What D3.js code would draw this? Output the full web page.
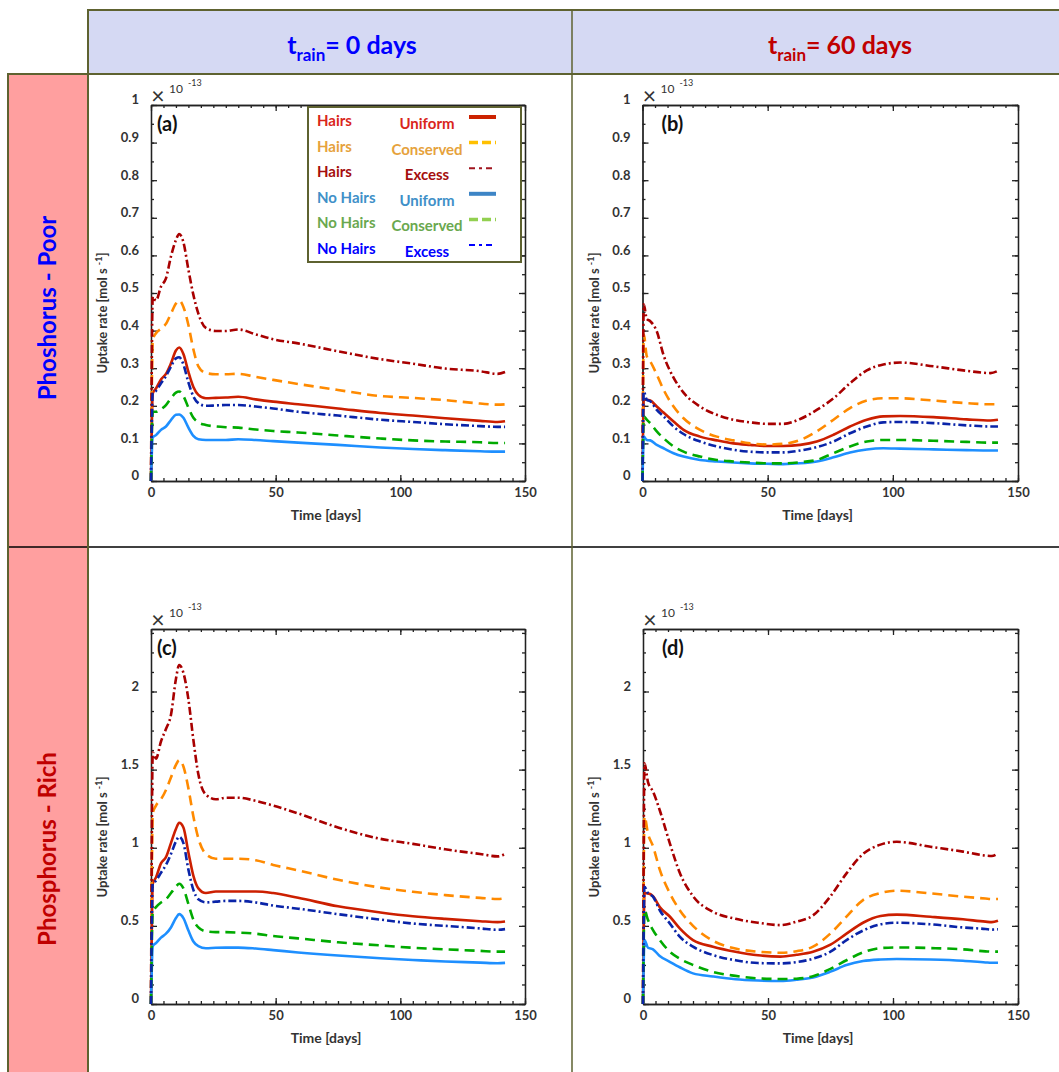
<!DOCTYPE html>
<meta charset="utf-8">
<style>
    body {
        margin: 0;
        background: white;
        font-family: Lato, 'Open Sans', sans-serif;
    }
    .axis path, .axis line { stroke: #222; stroke-width: 1.3px; }
    .axis text { font-family: Lato, sans-serif; font-weight: bold; font-size: 13px; fill: #333; }
    .curve { fill: none; stroke-width: 2.6px; }
    .lbl { font-weight: bold; fill: #333; }
</style>
<svg width="1059" height="1072"></svg>
<script src="https://d3js.org/d3.v7.min.js"></script>
<script>

// ---- data (uptake rate in units of 1e-13 mol/s) ----
var xTicks = [0, 50, 100, 150],
    yTicksPoor = [0, 0.1, 0.2, 0.3, 0.4, 0.5, 0.6, 0.7, 0.8, 0.9, 1],
    yTicksRich = [0, 0.5, 1, 1.5, 2];

var legendLeft = ["Hairs", "Hairs", "Hairs", "No Hairs", "No Hairs", "No Hairs"],
    legendRight = ["Uniform", "Conserved", "Excess", "Uniform", "Conserved", "Excess"];

// t_rain = 0 days (panels a, c)
var timeA = [0, 0.7, 2, 4, 6, 8, 10, 11.3, 13, 15, 17, 19, 22, 26, 30, 35, 42, 49, 59, 75, 92, 105, 118, 132, 139, 142];

var aHairsUniform = [0, 0.233, 0.246, 0.270, 0.285, 0.313, 0.347, 0.355, 0.338, 0.290, 0.250, 0.229, 0.220, 0.221, 0.222, 0.224, 0.217, 0.211, 0.204, 0.193, 0.181, 0.174, 0.167, 0.160, 0.157, 0.159];
var aHairsConserved = [0, 0.375, 0.393, 0.405, 0.418, 0.445, 0.472, 0.480, 0.463, 0.415, 0.350, 0.305, 0.287, 0.284, 0.284, 0.285, 0.277, 0.269, 0.258, 0.242, 0.226, 0.221, 0.215, 0.206, 0.203, 0.204];
var aHairsExcess = [0, 0.490, 0.480, 0.517, 0.539, 0.597, 0.641, 0.657, 0.635, 0.562, 0.495, 0.445, 0.407, 0.399, 0.399, 0.403, 0.390, 0.377, 0.366, 0.345, 0.324, 0.312, 0.299, 0.292, 0.285, 0.290];
var aNoHairsUniform = [0, 0.116, 0.122, 0.136, 0.145, 0.162, 0.176, 0.177, 0.168, 0.142, 0.120, 0.111, 0.109, 0.109, 0.109, 0.111, 0.109, 0.106, 0.102, 0.096, 0.089, 0.085, 0.082, 0.079, 0.078, 0.078];
var aNoHairsConserved = [0, 0.184, 0.184, 0.191, 0.202, 0.220, 0.235, 0.238, 0.226, 0.195, 0.168, 0.156, 0.149, 0.145, 0.143, 0.142, 0.137, 0.133, 0.129, 0.121, 0.113, 0.108, 0.105, 0.103, 0.101, 0.101];
var aNoHairsExcess = [0, 0.233, 0.240, 0.260, 0.279, 0.304, 0.326, 0.329, 0.310, 0.262, 0.225, 0.207, 0.200, 0.201, 0.202, 0.202, 0.198, 0.193, 0.184, 0.174, 0.163, 0.157, 0.151, 0.146, 0.144, 0.144];

var cHairsUniform = [0, 0.77, 0.81, 0.90, 0.94, 1.03, 1.12, 1.16, 1.13, 0.97, 0.82, 0.74, 0.71, 0.72, 0.72, 0.72, 0.72, 0.71, 0.68, 0.625, 0.586, 0.562, 0.545, 0.530, 0.524, 0.528];
var cHairsConserved = [0, 1.22, 1.27, 1.31, 1.37, 1.45, 1.53, 1.56, 1.52, 1.38, 1.20, 1.06, 0.96, 0.93, 0.93, 0.93, 0.92, 0.89, 0.855, 0.795, 0.745, 0.718, 0.697, 0.679, 0.672, 0.677];
var cHairsExcess = [0, 1.61, 1.57, 1.68, 1.76, 1.85, 2.08, 2.17, 2.12, 1.95, 1.69, 1.47, 1.34, 1.31, 1.32, 1.32, 1.30, 1.27, 1.22, 1.13, 1.057, 1.025, 0.99, 0.96, 0.945, 0.96];
var cNoHairsUniform = [0, 0.37, 0.39, 0.425, 0.45, 0.49, 0.55, 0.575, 0.55, 0.47, 0.40, 0.37, 0.357, 0.36, 0.361, 0.361, 0.355, 0.345, 0.33, 0.31, 0.293, 0.282, 0.272, 0.265, 0.261, 0.263];
var cNoHairsConserved = [0, 0.59, 0.62, 0.65, 0.67, 0.71, 0.75, 0.77, 0.74, 0.64, 0.54, 0.49, 0.465, 0.46, 0.46, 0.457, 0.45, 0.435, 0.42, 0.395, 0.375, 0.36, 0.35, 0.34, 0.335, 0.335];
var cNoHairsExcess = [0, 0.77, 0.79, 0.84, 0.89, 0.96, 1.04, 1.07, 1.03, 0.86, 0.73, 0.67, 0.65, 0.655, 0.66, 0.66, 0.65, 0.63, 0.61, 0.575, 0.54, 0.515, 0.50, 0.484, 0.475, 0.479];

// t_rain = 60 days (panels b, d)
var timeB = [0, 0.5, 1.7, 3.1, 5.7, 8.4, 12.4, 16.4, 23, 29.7, 36.3, 43, 49.6, 56.3, 63, 69.6, 76.3, 82.9, 89.6, 96.2, 102.9, 116.2, 129.5, 139, 142];

var bHairsUniform = [0, 0.216, 0.216, 0.214, 0.198, 0.182, 0.158, 0.136, 0.118, 0.108, 0.100, 0.096, 0.093, 0.093, 0.096, 0.105, 0.123, 0.145, 0.163, 0.172, 0.173, 0.170, 0.164, 0.161, 0.163];
var bHairsConserved = [0, 0.390, 0.332, 0.318, 0.283, 0.243, 0.198, 0.167, 0.136, 0.118, 0.108, 0.100, 0.097, 0.099, 0.109, 0.132, 0.163, 0.194, 0.214, 0.220, 0.220, 0.214, 0.207, 0.204, 0.204];
var bHairsExcess = [0, 0.470, 0.431, 0.425, 0.398, 0.335, 0.275, 0.235, 0.198, 0.176, 0.163, 0.156, 0.152, 0.152, 0.165, 0.189, 0.220, 0.260, 0.294, 0.310, 0.315, 0.305, 0.293, 0.287, 0.293];
var bNoHairsUniform = [0, 0.118, 0.109, 0.108, 0.096, 0.087, 0.074, 0.065, 0.056, 0.052, 0.049, 0.047, 0.046, 0.045, 0.047, 0.052, 0.063, 0.076, 0.084, 0.087, 0.086, 0.084, 0.082, 0.081, 0.081];
var bNoHairsConserved = [0, 0.172, 0.163, 0.154, 0.132, 0.114, 0.092, 0.078, 0.065, 0.056, 0.052, 0.049, 0.047, 0.047, 0.050, 0.056, 0.074, 0.092, 0.105, 0.109, 0.109, 0.107, 0.104, 0.102, 0.102];
var bNoHairsExcess = [0, 0.238, 0.216, 0.212, 0.189, 0.172, 0.145, 0.125, 0.105, 0.092, 0.083, 0.078, 0.076, 0.076, 0.081, 0.090, 0.105, 0.127, 0.145, 0.156, 0.157, 0.154, 0.148, 0.145, 0.145];

var timeD = [0, 0.6, 2, 4, 6.7, 10.7, 14.7, 20, 28, 37, 46, 55, 61.4, 68, 75, 81.4, 88, 95, 101.5, 115, 128, 137, 139.5, 142];

var dHairsUniform = [0, 0.71, 0.708, 0.69, 0.62, 0.56, 0.484, 0.409, 0.367, 0.335, 0.312, 0.303, 0.315, 0.335, 0.38, 0.45, 0.52, 0.563, 0.572, 0.558, 0.542, 0.527, 0.524, 0.533];
var dHairsConserved = [0, 1.20, 1.09, 1.01, 0.86, 0.71, 0.60, 0.50, 0.405, 0.355, 0.335, 0.328, 0.338, 0.367, 0.452, 0.559, 0.665, 0.71, 0.725, 0.708, 0.687, 0.675, 0.672, 0.672];
var dHairsExcess = [0, 1.54, 1.42, 1.36, 1.24, 1.03, 0.84, 0.69, 0.59, 0.545, 0.52, 0.505, 0.527, 0.567, 0.69, 0.836, 0.96, 1.02, 1.038, 1.006, 0.975, 0.95, 0.947, 0.964];
var dNoHairsUniform = [0, 0.41, 0.36, 0.35, 0.307, 0.27, 0.235, 0.196, 0.176, 0.158, 0.15, 0.147, 0.155, 0.17, 0.207, 0.249, 0.275, 0.285, 0.288, 0.285, 0.277, 0.266, 0.264, 0.264];
var dNoHairsConserved = [0, 0.60, 0.537, 0.473, 0.41, 0.335, 0.29, 0.25, 0.205, 0.18, 0.164, 0.16, 0.162, 0.178, 0.225, 0.28, 0.33, 0.358, 0.362, 0.358, 0.35, 0.337, 0.335, 0.335];
var dNoHairsExcess = [0, 0.75, 0.708, 0.687, 0.60, 0.516, 0.431, 0.367, 0.313, 0.28, 0.262, 0.26, 0.268, 0.29, 0.335, 0.409, 0.47, 0.51, 0.52, 0.51, 0.49, 0.48, 0.476, 0.478];

// ---- styles ----
// order: hairs uniform, hairs conserved, hairs excess, no hairs uniform, no hairs conserved, no hairs excess
var lineColors = ["#cc1f00", "#ff8a00", "#a80000", "#1e8fff", "#00aa00", "#0a24a8"],
    dashes = [null, "10,6", "8,3,2,3", null, "10,6", "8,3,2,3"],
    legText = ["#d9261c", "#e6a23c", "#a50e0e", "#4090c8", "#6aa84f", "#0000ff"],
    legLine = ["#cc2200", "#ffc000", "#a0141e", "#3d85c6", "#92d050", "#0000ff"],
    legWidth = [4, 3.5, 2, 4, 3.5, 2];

var olive = "#5e6230";

var svg = d3.select("svg");

// ---- table frame ----
svg.append("rect").attr("x", 88).attr("y", 10).attr("width", 971).attr("height", 64).attr("fill", "#d5d9f3");
svg.append("rect").attr("x", 8).attr("y", 74).attr("width", 80).attr("height", 998).attr("fill", "#ff9f9f");

function hline(x1, x2, y, col, w) {
    svg.append("line").attr("x1", x1).attr("x2", x2).attr("y1", y).attr("y2", y)
        .attr("stroke", col).attr("stroke-width", w);
}
function vline(x, y1, y2, col, w) {
    svg.append("line").attr("x1", x).attr("x2", x).attr("y1", y1).attr("y2", y2)
        .attr("stroke", col).attr("stroke-width", w);
}
hline(87, 1059, 10, olive, 2);
hline(7, 1059, 74, olive, 2);
hline(8, 1059, 547, "#000", 1.5);
vline(88, 9, 1072, olive, 2);
vline(8, 73, 1072, olive, 2);
vline(572, 9, 1072, olive, 1.5);

// column headers with subscript
function header(cx, txt, col) {
    var t = svg.append("text").attr("x", cx).attr("y", 54).attr("text-anchor", "middle")
        .attr("font-size", 25).attr("font-weight", "bold").attr("fill", col);
    t.append("tspan").text("t");
    t.append("tspan").attr("dy", 7).attr("font-size", 17).text("rain");
    t.append("tspan").attr("dy", -7).text(txt);
}
header(352, "= 0 days", "#0000ff");
header(840, "= 60 days", "#c00000");

function rowLabel(cy, txt, col) {
    svg.append("text").attr("transform", "translate(56," + cy + ") rotate(-90)")
        .attr("text-anchor", "middle").attr("font-size", 24).attr("font-weight", "bold")
        .attr("fill", col).text(txt);
}
rowLabel(308, "Phoshorus - Poor", "#0000ff");
rowLabel(849, "Phosphorus - Rich", "#c00000");

// ---- panels ----
var panels = [
    { name: "(a)", time: timeA, series: [aHairsUniform, aHairsConserved, aHairsExcess, aNoHairsUniform, aNoHairsConserved, aNoHairsExcess],
      left: 151, right: 525, top: 105, bottom: 481, ymax: 1, yTicks: yTicksPoor, minor: 0.05, letterDx: 6, legend: true },
    { name: "(b)", time: timeB, series: [bHairsUniform, bHairsConserved, bHairsExcess, bNoHairsUniform, bNoHairsConserved, bNoHairsExcess],
      left: 642.5, right: 1018, top: 105, bottom: 481, ymax: 1, yTicks: yTicksPoor, minor: 0.05, letterDx: 19 },
    { name: "(c)", time: timeA, series: [cHairsUniform, cHairsConserved, cHairsExcess, cNoHairsUniform, cNoHairsConserved, cNoHairsExcess],
      left: 151, right: 525, top: 629, bottom: 1004, ymax: 2.4, yTicks: yTicksRich, minor: 0.125, letterDx: 6 },
    { name: "(d)", time: timeD, series: [dHairsUniform, dHairsConserved, dHairsExcess, dNoHairsUniform, dNoHairsConserved, dNoHairsExcess],
      left: 643, right: 1018, top: 629, bottom: 1004, ymax: 2.4, yTicks: yTicksRich, minor: 0.125, letterDx: 19 }
];

panels.forEach(function (p) {
    var x = d3.scaleLinear().domain([0, 150]).range([p.left, p.right]),
        y = d3.scaleLinear().domain([0, p.ymax]).range([p.bottom, p.top]),
        g = svg.append("g");

    var minorY = d3.range(0, p.ymax + 1e-9, p.minor),
        minorX = d3.range(0, 151, 5);

    // minor ticks, all four sides
    g.append("g").attr("class", "axis").attr("transform", "translate(" + p.left + ",0)")
        .call(d3.axisLeft(y).tickValues(minorY).tickSize(-3).tickSizeOuter(0).tickFormat(""));
    g.append("g").attr("class", "axis").attr("transform", "translate(" + p.right + ",0)")
        .call(d3.axisRight(y).tickValues(minorY).tickSize(-3).tickSizeOuter(0).tickFormat(""));
    g.append("g").attr("class", "axis").attr("transform", "translate(0," + p.bottom + ")")
        .call(d3.axisBottom(x).tickValues(minorX).tickSize(-3).tickSizeOuter(0).tickFormat(""));
    g.append("g").attr("class", "axis").attr("transform", "translate(0," + p.top + ")")
        .call(d3.axisTop(x).tickValues(minorX).tickSize(-3).tickSizeOuter(0).tickFormat(""));

    // major ticks + labels
    g.append("g").attr("class", "axis").attr("transform", "translate(" + p.left + ",0)")
        .call(d3.axisLeft(y).tickValues(p.yTicks).tickSize(-6).tickSizeOuter(0).tickPadding(12).tickFormat(d3.format("~g")))
        .selectAll("text").attr("dy", "-0.08em");
    g.append("g").attr("class", "axis").attr("transform", "translate(" + p.right + ",0)")
        .call(d3.axisRight(y).tickValues(p.yTicks).tickSize(-6).tickSizeOuter(0).tickFormat(""));
    g.append("g").attr("class", "axis").attr("transform", "translate(0," + p.bottom + ")")
        .call(d3.axisBottom(x).tickValues(xTicks).tickSize(-6).tickSizeOuter(0).tickPadding(7));
    g.append("g").attr("class", "axis").attr("transform", "translate(0," + p.top + ")")
        .call(d3.axisTop(x).tickValues(xTicks).tickSize(-6).tickSizeOuter(0).tickFormat(""));

    // x10^-13 multiplier
    g.append("text").attr("x", p.left + 7).attr("y", p.top - 1).attr("text-anchor", "middle")
        .attr("font-size", 23).attr("fill", "#333").text("\u00d7");
    g.append("text").attr("x", p.left + 18).attr("y", p.top - 12)
        .attr("font-size", 12).attr("fill", "#333").text("10");
    g.append("text").attr("x", p.left + 37).attr("y", p.top - 19)
        .attr("font-size", 9).attr("fill", "#333").text("-13");

    // axis titles
    g.append("text").attr("class", "lbl").attr("x", p.left + 175).attr("y", p.bottom + 39)
        .attr("text-anchor", "middle").attr("font-size", 14).text("Time [days]");
    var yl = g.append("text").attr("class", "lbl")
        .attr("transform", "translate(" + (p.left - 44) + "," + (p.top + 208) + ") rotate(-90)")
        .attr("text-anchor", "middle").attr("font-size", 13);
    yl.append("tspan").text("Uptake rate [mol s ");
    yl.append("tspan").attr("dy", -5).attr("font-size", 9).text("-1");
    yl.append("tspan").attr("dy", 5).text("]");

    // curves
    var line = d3.line()
        .x(function (d) { return x(d[0]); })
        .y(function (d) { return y(d[1]); })
        .curve(d3.curveMonotoneX);

    p.series.forEach(function (vals, i) {
        var pts = p.time.map(function (t, k) { return [t, vals[k]]; });
        g.append("path").datum(pts).attr("class", "curve")
            .attr("stroke", lineColors[i])
            .attr("stroke-dasharray", dashes[i])
            .attr("d", line);
    });

    g.append("text").attr("x", p.left + p.letterDx).attr("y", p.top + 26)
        .attr("font-size", 20).attr("font-weight", "bold").attr("fill", "#111").text(p.name);

    if (p.legend) drawLegend(g);
});

function drawLegend(g) {
    var lg = g.append("g");
    lg.append("rect").attr("x", 308).attr("y", 107).attr("width", 213).attr("height", 155)
        .attr("fill", "white").attr("stroke", olive).attr("stroke-width", 2);
    legendLeft.forEach(function (s, i) {
        var by = 126 + i * 25.6;
        lg.append("text").attr("x", 317).attr("y", by).attr("font-size", 15)
            .attr("font-weight", "bold").attr("fill", legText[i]).text(s);
        lg.append("text").attr("x", 427).attr("y", by + 3).attr("text-anchor", "middle")
            .attr("font-size", 15).attr("font-weight", "bold").attr("fill", legText[i]).text(legendRight[i]);
        lg.append("line").attr("x1", 469).attr("x2", 496).attr("y1", by - 9).attr("y2", by - 9)
            .attr("stroke", legLine[i]).attr("stroke-width", legWidth[i])
            .attr("stroke-dasharray", i % 3 === 1 ? "9,4" : (i % 3 === 2 ? "6,4,3,4" : null));
    });
}

</script>
